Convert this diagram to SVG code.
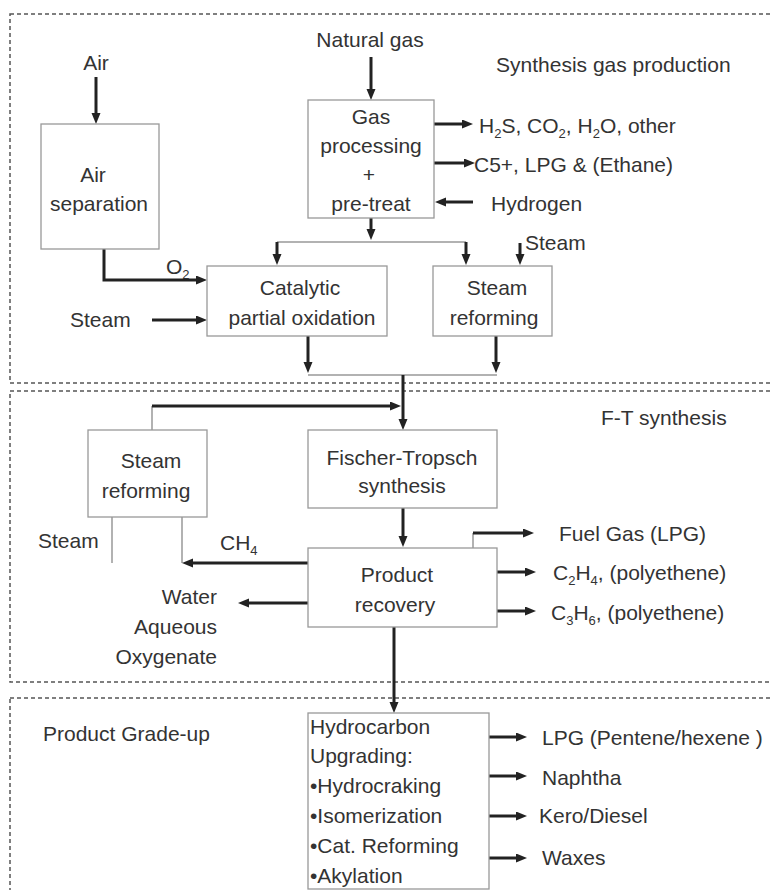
<svg xmlns="http://www.w3.org/2000/svg" width="771" height="890" viewBox="0 0 771 890">
<style>
text{font-family:"Liberation Sans",Arial,sans-serif;font-size:21px;fill:#333}
.c{text-anchor:middle}
.r{text-anchor:end}
.sub{font-size:13px}
.box{fill:#fff;stroke:#999;stroke-width:1.3}
.zone{fill:none;stroke:#555;stroke-width:1.5;stroke-dasharray:4 3}
.a{fill:none;stroke:#222;stroke-width:3;marker-end:url(#ah)}
.t{fill:none;stroke:#222;stroke-width:3}
.thin{fill:none;stroke:#999;stroke-width:1.5}
</style>
<defs>
<marker id="ah" markerWidth="11" markerHeight="10" refX="1" refY="4.5" orient="auto" markerUnits="userSpaceOnUse"><path d="M0,0 L11,4.5 L0,9 z" fill="#222"/></marker>
</defs>
<rect width="771" height="890" fill="#fff"/>
<g id="zones">
<rect class="zone" x="10" y="14" width="780" height="369"/>
<rect class="zone" x="10" y="391" width="780" height="291"/>
<rect class="zone" x="10" y="698" width="780" height="220"/>
<text x="496" y="72">Synthesis gas production</text>
<text x="601" y="425">F-T synthesis</text>
<text x="43" y="741">Product Grade-up</text>
</g>
<g id="connectors">
<line class="a" x1="96" y1="77" x2="96" y2="114"/>
<line class="a" x1="371" y1="57" x2="371" y2="90"/>
<line class="a" x1="434" y1="124" x2="463" y2="124"/>
<line class="a" x1="434" y1="163" x2="465" y2="163"/>
<line class="a" x1="473" y1="202" x2="445" y2="202"/>
<line class="a" x1="371" y1="218" x2="371" y2="230"/>
<line class="thin" x1="277" y1="242" x2="466" y2="242"/>
<line class="a" x1="277" y1="242" x2="277" y2="255"/>
<line class="a" x1="466" y1="242" x2="466" y2="255"/>
<line class="a" x1="520" y1="243" x2="520" y2="255"/>
<polyline class="a" points="104,249 104,280 197,280"/>
<line class="a" x1="152" y1="320" x2="197" y2="320"/>
<line class="a" x1="308" y1="336" x2="308" y2="363"/>
<line class="a" x1="496" y1="336" x2="496" y2="363"/>
<line class="thin" x1="308" y1="375" x2="497" y2="375"/>
<line class="a" x1="403" y1="375" x2="403" y2="420"/>
<line class="thin" x1="152" y1="430" x2="152" y2="406"/>
<line class="a" x1="152" y1="406" x2="391" y2="406"/>
<line class="a" x1="403" y1="508" x2="403" y2="537"/>
<line class="thin" x1="112" y1="517" x2="112" y2="563"/>
<line class="thin" x1="182" y1="517" x2="182" y2="563"/>
<line class="a" x1="308" y1="563" x2="192" y2="563"/>
<line class="a" x1="308" y1="603" x2="248" y2="603"/>
<line class="thin" x1="473" y1="548" x2="473" y2="533"/>
<line class="a" x1="473" y1="533" x2="524" y2="533"/>
<line class="a" x1="497" y1="572" x2="526" y2="572"/>
<line class="a" x1="497" y1="611" x2="526" y2="611"/>
<line class="a" x1="394" y1="627" x2="394" y2="703"/>
<line class="a" x1="489" y1="737" x2="517" y2="737"/>
<line class="a" x1="489" y1="776" x2="517" y2="776"/>
<line class="a" x1="489" y1="816" x2="517" y2="816"/>
<line class="a" x1="489" y1="858" x2="517" y2="858"/>
</g>
<g id="labels">
<text class="c" x="96" y="70">Air</text>
<text class="c" x="370" y="47">Natural gas</text>
<text x="479" y="133">H<tspan class="sub" dy="5">2</tspan><tspan dy="-5">S, CO</tspan><tspan class="sub" dy="5">2</tspan><tspan dy="-5">, H</tspan><tspan class="sub" dy="5">2</tspan><tspan dy="-5">O, other</tspan></text>
<text x="474" y="172">C5+, LPG &amp; (Ethane)</text>
<text x="491" y="211">Hydrogen</text>
<text x="525" y="250">Steam</text>
<text x="166" y="274">O<tspan class="sub" dy="5">2</tspan></text>
<text x="70" y="327">Steam</text>
<text x="38" y="548">Steam</text>
<text x="220" y="550">CH<tspan class="sub" dy="5">4</tspan></text>
<text class="r" x="217" y="604">Water</text>
<text class="r" x="217" y="634">Aqueous</text>
<text class="r" x="217" y="664">Oxygenate</text>
<text x="559" y="541">Fuel Gas (LPG)</text>
<text x="553" y="580">C<tspan class="sub" dy="5">2</tspan><tspan dy="-5">H</tspan><tspan class="sub" dy="5">4</tspan><tspan dy="-5">, (polyethene)</tspan></text>
<text x="551" y="620">C<tspan class="sub" dy="5">3</tspan><tspan dy="-5">H</tspan><tspan class="sub" dy="5">6</tspan><tspan dy="-5">, (polyethene)</tspan></text>
<text x="542" y="745">LPG (Pentene/hexene )</text>
<text x="542" y="785">Naphtha</text>
<text x="539" y="823">Kero/Diesel</text>
<text x="542" y="865">Waxes</text>
</g>
<g id="air-separation">
<rect class="box" x="41" y="124" width="118" height="125"/>
<text class="c" x="93" y="182">Air</text>
<text class="c" x="99" y="211">separation</text>
</g>
<g id="gas-processing">
<rect class="box" x="308" y="100" width="126" height="118"/>
<text class="c" x="371" y="124">Gas</text>
<text class="c" x="371" y="153">processing</text>
<text class="c" x="369" y="182">+</text>
<text class="c" x="371" y="211">pre-treat</text>
</g>
<g id="catalytic-partial-oxidation">
<rect class="box" x="207" y="266" width="180" height="70"/>
<text class="c" x="300" y="295">Catalytic</text>
<text class="c" x="302" y="325">partial oxidation</text>
</g>
<g id="steam-reforming-1">
<rect class="box" x="433" y="266" width="119" height="70"/>
<text class="c" x="497" y="295">Steam</text>
<text class="c" x="494" y="325">reforming</text>
</g>
<g id="steam-reforming-2">
<rect class="box" x="88" y="430" width="119" height="87"/>
<text class="c" x="151" y="468">Steam</text>
<text class="c" x="146" y="498">reforming</text>
</g>
<g id="fischer-tropsch">
<rect class="box" x="308" y="430" width="189" height="78"/>
<text class="c" x="402" y="465">Fischer-Tropsch</text>
<text class="c" x="402" y="493">synthesis</text>
</g>
<g id="product-recovery">
<rect class="box" x="308" y="548" width="189" height="79"/>
<text class="c" x="397" y="582">Product</text>
<text class="c" x="395" y="612">recovery</text>
</g>
<g id="hydrocarbon-upgrading">
<rect class="box" x="308" y="713" width="181" height="176"/>
<text x="310" y="734">Hydrocarbon</text>
<text x="310" y="763">Upgrading:</text>
<text x="310" y="793">•Hydrocraking</text>
<text x="310" y="823">•Isomerization</text>
<text x="310" y="853">•Cat. Reforming</text>
<text x="310" y="883">•Akylation</text>
</g>
</svg>
